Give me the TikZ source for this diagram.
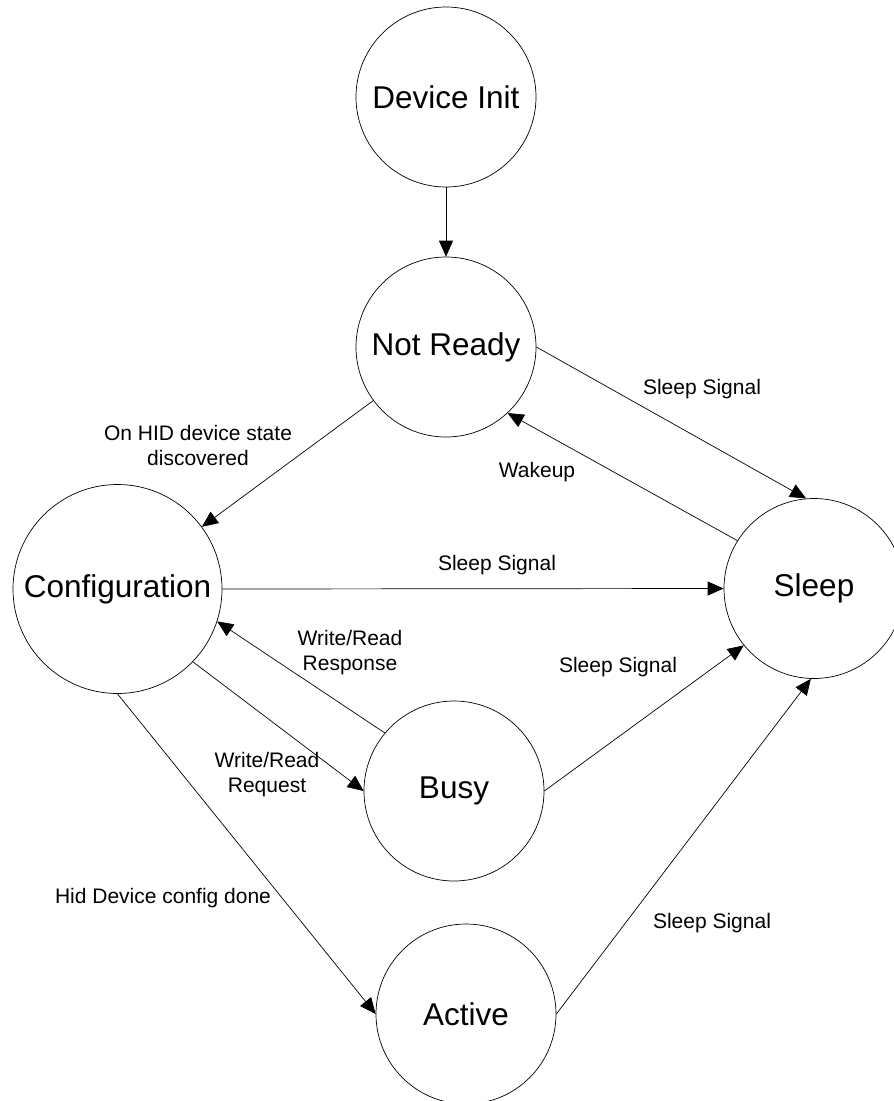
\documentclass[tikz,border=0pt]{standalone}
\usepackage{fontspec}
\setmainfont{Liberation Sans}
\usetikzlibrary{arrows.meta}
\tikzset{
state/.style={draw,circle,inner sep=0pt,minimum size=180pt,line width=.7pt,font=\fontsize{31.5}{36}\selectfont},
bigstate/.style={state,minimum size=209pt},
cond/.style={align=center,inner sep=0pt,font=\fontsize{21}{25}\selectfont},
trans/.style={-{Triangle[length=16pt,width=14pt]},line width=.7pt}
}
\begin{document}
\begin{tikzpicture}[x=1pt,y=-1pt]
\useasboundingbox (0,0) rectangle (894,1101);
% states
\node[state](init) at (446,97){Device Init};
\node[state](nr) at (446,347){Not Ready};
\node[bigstate](conf) at (117.5,589){Configuration};
\node[state](sleep) at (814,588.5){Sleep};
\node[state](busy) at (454,791){Busy};
\node[state](act) at (466,1014){Active};
% transitions
\draw[trans](init)--(nr);
\draw[trans](nr)--(conf);
\draw[trans](nr.east)--(sleep.95);
\draw[trans](sleep.148)--(nr.-47);
\draw[trans](conf.east)--(sleep.west);
\draw[trans](busy.140)--(conf.-18);
\draw[trans](conf.-44)--(busy.west);
\draw[trans](conf.south)--(act.west);
\draw[trans](busy.east)--(sleep.219);
\draw[trans](act.east)--(sleep.268);
% labels
\node[cond](lhid) at (198,445){On HID device state\\discovered};
\node[cond](lnrs) at (702,389){Sleep Signal};
\node[cond](lwake) at (537,472){Wakeup};
\node[cond](lcfs) at (497,565){Sleep Signal};
\node[cond](lresp) at (350,653){Write/Read\\Response};
\node[cond](lreq) at (267,775){Write/Read\\Request};
\node[cond](lbss) at (618,667){Sleep Signal};
\node[cond](ldone) at (163,898){Hid Device config done};
\node[cond](lacs) at (712,923){Sleep Signal};
\end{tikzpicture}
\end{document}
